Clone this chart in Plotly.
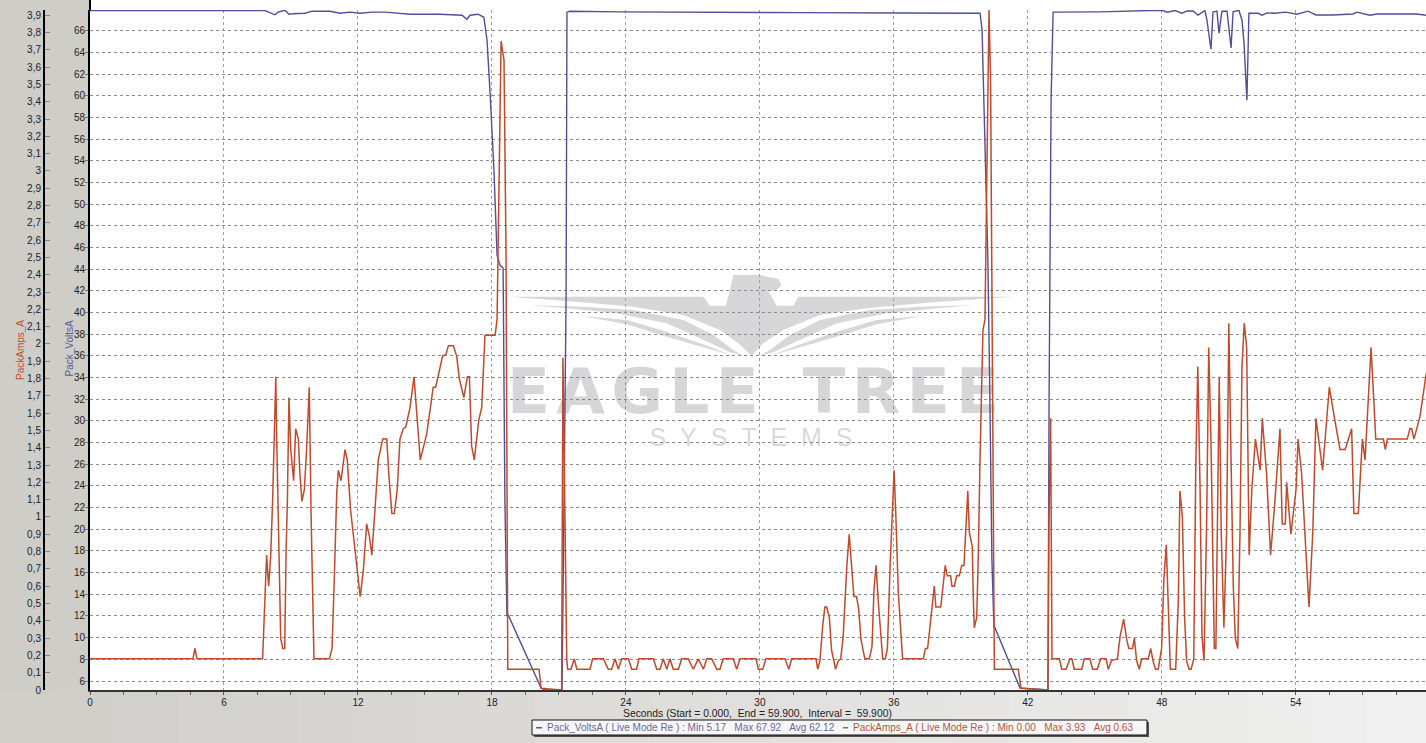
import plotly.graph_objects as go

W, H = 1426, 743

volts_t = [0, 7.84, 8.28, 8.42, 8.73, 8.91, 9.09, 9.31, 9.63, 9.94, 10.75, 11.20, 11.64, 12.09, 12.63, 13.21, 13.66, 14.33, 15.23, 15.67, 16.66, 16.88, 17.02, 17.38, 17.64, 17.78, 17.91, 18.09, 18.23, 18.36, 18.50, 18.58, 18.67, 18.73, 20.20, 20.38, 21.14, 21.32, 21.36, 21.50, 23.73, 27.32, 31.80, 36.27, 39.86, 39.95, 40.08, 40.21, 40.30, 40.39, 40.48, 40.53, 41.65, 42.90, 42.95, 43.04, 43.13, 45.23, 47.47, 48.05, 48.23, 48.59, 48.90, 49.13, 49.40, 49.62, 49.93, 50.02, 50.20, 50.29, 50.47, 50.56, 50.69, 50.92, 51.10, 51.19, 51.45, 51.59, 51.68, 51.81, 51.90, 52.31, 52.49, 52.71, 53.07, 53.52, 53.74, 54.05, 54.55, 54.90, 55.66, 56.56, 56.74, 57.32, 57.63, 59.42, 59.83]
volts_v = [67.87, 67.87, 67.48, 67.72, 67.90, 67.53, 67.58, 67.58, 67.62, 67.81, 67.81, 67.62, 67.72, 67.62, 67.72, 67.72, 67.62, 67.53, 67.53, 67.53, 67.44, 67.07, 67.44, 67.53, 67.25, 65.13, 60.52, 53.14, 45.30, 44.38, 44.10, 22.70, 12.09, 12.09, 5.35, 5.17, 5.17, 41.15, 67.72, 67.80, 67.75, 67.70, 67.68, 67.65, 67.62, 66.05, 54.99, 44.84, 31.92, 17.16, 10.98, 10.89, 5.35, 5.17, 31.92, 59.60, 67.72, 67.75, 67.87, 67.87, 67.72, 67.87, 67.62, 67.83, 67.83, 67.44, 67.87, 66.98, 64.30, 67.72, 67.81, 65.78, 67.81, 67.81, 64.42, 67.75, 67.90, 66.98, 64.86, 59.60, 67.62, 67.62, 67.44, 67.65, 67.62, 67.72, 67.65, 67.53, 67.81, 67.46, 67.46, 67.55, 67.72, 67.44, 67.55, 67.55, 67.44]

amps_t = [0, 4.61, 4.70, 4.79, 7.73, 7.76, 7.88, 7.91, 8.00, 8.09, 8.18, 8.24, 8.32, 8.36, 8.48, 8.54, 8.63, 8.72, 8.78, 8.84, 8.91, 8.99, 9.12, 9.21, 9.33, 9.40, 9.49, 9.60, 9.70, 9.82, 9.90, 9.97, 10.03, 10.72, 10.84, 10.94, 11.05, 11.12, 11.24, 11.42, 11.52, 11.67, 11.87, 12.10, 12.24, 12.39, 12.51, 12.62, 12.76, 12.91, 13.11, 13.29, 13.39, 13.52, 13.63, 13.76, 13.88, 14.03, 14.14, 14.33, 14.51, 14.63, 14.79, 15.08, 15.23, 15.37, 15.48, 15.79, 15.94, 16.05, 16.27, 16.42, 16.54, 16.74, 16.90, 16.99, 17.09, 17.21, 17.41, 17.54, 17.69, 18.14, 18.23, 18.41, 18.54, 18.63, 18.71, 20.11, 20.20, 21.12, 21.18, 21.25, 21.32,
          21.35, 21.39, 21.54, 21.69, 21.80, 22.39, 22.51, 22.99, 23.21, 23.36, 23.51, 23.66, 23.81, 24.11, 24.26, 24.48, 24.58, 25.23, 25.38, 25.53, 25.67, 25.83, 25.97, 26.12, 26.35, 26.50, 26.79, 27.02, 27.24, 27.47, 27.62, 27.84, 28.07, 28.21, 28.36, 28.81, 28.96, 29.11, 29.83, 29.93, 30.13, 30.27, 31.12, 31.30, 31.42, 32.51,
          32.59, 32.69, 32.81, 32.91, 32.99, 33.11, 33.21, 33.39, 33.51, 33.62, 33.73, 33.89, 34.00, 34.11, 34.21, 34.33, 34.42, 34.53, 34.70, 34.90, 35.02, 35.11, 35.20, 35.32, 35.50, 35.62, 35.71, 35.83, 35.91, 36.01, 36.09, 36.20, 36.39, 37.32, 37.41, 37.51, 37.62, 37.81, 37.88, 38.10, 38.30, 38.39, 38.54, 38.60, 38.71, 38.81, 38.93, 39.04, 39.14, 39.22, 39.31, 39.38, 39.51, 39.56, 39.60, 39.71, 39.78, 39.86, 39.99, 40.08, 40.26, 40.33, 40.42, 40.50, 41.57, 41.69, 42.90, 42.95, 43.02, 43.08,
          43.41, 43.52, 43.71, 43.89, 43.97, 44.08, 44.41, 44.53, 44.78, 44.90, 45.11, 45.26, 45.50, 45.60, 45.75, 46.01, 46.13, 46.29, 46.43, 46.52, 46.69, 46.77, 46.87, 46.99, 47.10, 47.39, 47.50, 47.62, 47.72, 47.84, 47.99, 48.09, 48.20, 48.29, 48.38, 48.62, 48.74, 48.81, 48.92, 49.02, 49.11, 49.22, 49.31, 49.43, 49.52, 49.61, 49.71, 49.80, 49.89, 50.01, 50.10, 50.20, 50.29, 50.35, 50.42, 50.50, 50.57, 50.66, 50.78, 50.90, 51.00, 51.10, 51.20, 51.29, 51.40, 51.50, 51.59, 51.69, 51.80, 51.87, 51.91, 52.03, 52.19, 52.40, 52.50, 52.69, 52.87, 53.07, 53.29, 53.39, 53.53, 53.59, 53.78, 54.01, 54.10, 54.26, 54.59, 54.76, 54.90, 55.20, 55.50, 55.76, 55.98, 56.21, 56.50, 56.60, 56.80, 56.98, 57.10, 57.37, 57.58, 57.92, 58.01, 58.10, 58.99, 59.11, 59.19, 59.29, 59.56, 59.83, 59.90]
amps_a = [.18, .18, .24, .18, .18, .28, .62, .78, .60, .77, 1.10, 1.46, 1.81, 1.46, .54, .30, .24, .24, .79, 1.10, 1.69, 1.39, 1.21, 1.51, 1.45, 1.25, 1.09, 1.16, 1.39, 1.75, 1.02, .48, .18, .18, .24, .64, 1.14, 1.27, 1.21, 1.39, 1.33, 1.04, .81, .54, .69, .96, .89, .78, 1.04, 1.33, 1.45, 1.45, 1.23, 1.02, 1.02, 1.16, 1.45, 1.51, 1.52, 1.63, 1.81, 1.62, 1.33, 1.48, 1.63, 1.75, 1.75, 1.93, 1.94, 1.99, 1.99, 1.93, 1.80, 1.69, 1.81, 1.81, 1.41, 1.33, 1.56, 1.63, 2.05, 2.05, 2.14, 3.75, 3.64, 2.54, .12, .12, .01, 0, 1.92, 1.21, .18,
          .18, .12, .12, .18, .12, .12, .18, .18, .12, .12, .18, .12, .18, .18, .12, .12, .18, .18, .12, .12, .18, .12, .18, .12, .12, .18, .18, .12, .18, .12, .18, .18, .12, .12, .18, .18, .12, .18, .18, .12, .12, .18, .18, .12, .18, .18,
          .12, .17, .37, .48, .48, .42, .23, .12, .17, .18, .31, .71, .90, .71, .54, .54, .47, .29, .18, .18, .25, .58, .72, .48, .18, .18, .24, .71, 1.00, 1.27, 1.00, .56, .18, .18, .24, .24, .37, .60, .48, .48, .72, .66, .66, .60, .60, .66, .66, .72, .72, .91, 1.15, .91, .83, .52, .36, .42, .77, 1.35, 2.08, 2.14, 3.93, 3.53, 1.68, .12, .12, .01, 0, 1.01, 1.57, .18,
          .18, .12, .12, .18, .18, .12, .12, .18, .18, .12, .12, .18, .18, .12, .17, .18, .31, .41, .29, .24, .24, .30, .17, .12, .18, .18, .24, .16, .12, .12, .24, .64, .84, .52, .12, .12, .52, 1.15, 1.00, .42, .17, .12, .12, .18, 1.29, 1.87, 1.18, .31, .17, 1.00, 1.98, 1.45, .62, .24, .24, 1.02, 1.81, .91, .36, .91, 2.12, 1.33, .60, .30, .24, .91, 1.87, 2.12, 1.98, 1.21, .78, 1.16, 1.45, 1.27, 1.57, 1.25, .78, 1.10, 1.51, .96, .96, 1.20, .90, 1.16, 1.45, 1.25, .48, .91, 1.57, 1.27, 1.75, 1.55, 1.39, 1.39, 1.51, 1.02, 1.02, 1.45, 1.33, 1.98, 1.45, 1.45, 1.39, 1.45, 1.45, 1.51, 1.51, 1.45, 1.58, 1.82, 1.86]

amp_tick_labels = "0 0,1 0,2 0,3 0,4 0,5 0,6 0,7 0,8 0,9 1 1,1 1,2 1,3 1,4 1,5 1,6 1,7 1,8 1,9 2 2,1 2,2 2,3 2,4 2,5 2,6 2,7 2,8 2,9 3 3,1 3,2 3,3 3,4 3,5 3,6 3,7 3,8 3,9".split()
amp_tick_values = [float(s.replace(",", ".")) for s in amp_tick_labels]

legend_volts = "Pack_VoltsA ( Live Mode Re ) : Min 5.17\u00a0\u00a0\u00a0Max 67.92\u00a0\u00a0\u00a0Avg 62.12"
legend_amps = "PackAmps_A ( Live Mode Re ) : Min 0.00\u00a0\u00a0\u00a0Max 3.93\u00a0\u00a0\u00a0Avg 0.63"
footer = "Seconds (Start = 0.000,\u00a0 End = 59.900,\u00a0 Interval =\u00a0 59.900)"

BLUE, RED = "#50509a", "#c04a2a"
FONT = "Liberation Sans"
WM = "#d7d7d9"


def px(x):
    return x / W


def py(y):
    return 1 - y / H


def rect(x0, y0, x1, y1, fill, line=None, layer="below"):
    return dict(type="rect", xref="paper", yref="paper", x0=px(x0), x1=px(x1), y0=py(y0), y1=py(y1),
                fillcolor=fill, line=dict(color=line or fill, width=1 if line else 0), layer=layer)


def zoom_poly(points):
    d = "M" + " L".join(f"{px(500 + a / 3):.5f},{py(265 + b / 3):.5f}" for a, b in points) + " Z"
    return dict(type="path", xref="paper", yref="paper", path=d, fillcolor=WM, line=dict(width=0), layer="below")


def mirror(points):
    return [(1510 - a, b) for a, b in points]


body = [(20, 95), (610, 95), (630, 122), (678, 122), (700, 30), (780, 30), (835, 42), (845, 60), (830, 75), (805, 78),
        (830, 122), (880, 122), (895, 95), (1540, 95), (1300, 112), (1100, 130), (960, 150), (850, 195), (790, 235),
        (755, 272), (715, 235), (660, 195), (550, 150), (400, 125), (200, 108)]
stripe1 = [(85, 120), (250, 125), (400, 135), (550, 165), (640, 210), (700, 255), (730, 272), (690, 262), (600, 220),
           (500, 175), (350, 145), (200, 130)]
stripe2 = [(240, 152), (380, 165), (500, 200), (600, 235), (700, 272), (620, 250), (500, 215), (380, 178)]

shapes = []
# bottom band: grey-to-light gradient
N = 24
for i in range(N):
    f = i / (N - 1)
    c = "rgb(%d,%d,%d)" % (208 + 32 * f, 206 + 34 * f, 201 + 39 * f)
    shapes.append(rect(W * i / N, 691, W * (i + 1) / N + 1, H, c))
shapes.append(rect(90, 0, W, 10, "#ffffff"))
shapes += [zoom_poly(body), zoom_poly(stripe1), zoom_poly(mirror(stripe1)), zoom_poly(stripe2), zoom_poly(mirror(stripe2))]
# legend frame
shapes.append(rect(534, 722, 1149, 737, "#55534f", layer="above"))
shapes.append(rect(532, 720, 1147, 735, "#f6f6f8", "#111111", layer="above"))
shapes.append(rect(536, 727, 542, 728.5, "#5a5a9a", layer="above"))
shapes.append(rect(843, 727, 848, 728.5, "#c05a40", layer="above"))
shapes.append(dict(type="line", xref="paper", yref="paper", x0=px(90), x1=px(90), y0=py(0), y1=py(10),
                   line=dict(color="#000", width=2)))

hs = "\u200a"
fig = go.Figure()
fig.add_trace(go.Scatter(x=[29.69], y=[32.15], mode="text", text=[hs.join("EAGLE") + "\u00a0\u00a0" + hs.join("TREE")],
                         textfont=dict(family="DejaVu Sans", size=63, color="rgba(120,120,125,0.3)", weight="bold"),
                         textposition="middle center", showlegend=False, hoverinfo="skip"))
fig.add_trace(go.Scatter(x=[29.6], y=[28.3], mode="text", text=["\u00a0\u00a0".join("SYSTEMS")],
                         textfont=dict(family=FONT, size=25, color="rgba(120,120,125,0.3)"),
                         textposition="middle center", showlegend=False, hoverinfo="skip"))
fig.add_trace(go.Scatter(x=volts_t, y=volts_v, mode="lines", name="Pack_VoltsA", line=dict(color=BLUE, width=1.4), yaxis="y", showlegend=False))
fig.add_trace(go.Scatter(x=amps_t, y=amps_a, mode="lines", name="PackAmps_A", line=dict(color=RED, width=1.5), yaxis="y2", showlegend=False))


def note(x, y, text, color, size=10, angle=0, xanchor="left", family=FONT):
    return dict(xref="paper", yref="paper", x=px(x), y=py(y), text=text, showarrow=False, textangle=angle,
                xanchor=xanchor, yanchor="middle", font=dict(family=family, size=size, color=color))


fig.update_layout(
    width=W, height=H, margin=dict(l=0, r=0, t=0, b=0, pad=0, autoexpand=False),
    paper_bgcolor="#cfcdc8", plot_bgcolor="#ffffff", showlegend=False, shapes=shapes,
    font=dict(family=FONT, size=10, color="#222"),
    xaxis=dict(domain=[px(90), 1], range=[0, 59.83], tick0=0, dtick=6, ticks="outside", ticklen=3, tickcolor="#555",
               showline=True, linecolor="#333", linewidth=2, showgrid=True, gridcolor="#a0a0a0", griddash="3px,3px", gridwidth=1,
               zeroline=False, tickfont=dict(family=FONT, size=10, color="#222"), ticklabelstandoff=-1,
               minor=dict(dtick=1.5, ticks="outside", ticklen=3, tickcolor="#666", showgrid=False)),
    yaxis=dict(domain=[py(690), py(10)], range=[5.17, 67.92], tick0=6, dtick=2, ticks="outside", ticklen=3, tickcolor="#777",
               showline=True, linecolor="#000", linewidth=2, showgrid=True, gridcolor="#8c8c8c", griddash="3px,3px", gridwidth=1,
               zeroline=False, tickfont=dict(family=FONT, size=10, color="#222"), ticklabelstandoff=-2),
    yaxis2=dict(overlaying="y", anchor="free", position=px(44), side="left", range=[0, 3.93], tickmode="array",
                tickvals=amp_tick_values, ticktext=amp_tick_labels, ticks="inside", ticklen=5, tickcolor="#888",
                showline=True, linecolor="#000", linewidth=2, showgrid=False, zeroline=False,
                tickfont=dict(family=FONT, size=10, color="#222")),
    annotations=[
        note(20, 350, "PackAmps_A", "#c0502f", 10, -90, "center"),
        note(68.5, 349, "Pack_VoltsA", "#5a5a9c", 10, -90, "center"),
        note(758, 713, footer, "#222", 10.35, 0, "center"),
        note(545, 727.5, legend_volts, "#6a6a98", 10),
        note(851, 727.5, legend_amps, "#b55a40", 10),
    ],
)
fig.write_html("out.html", post_script="document.body.style.margin='0';", config=dict(displayModeBar=False))
